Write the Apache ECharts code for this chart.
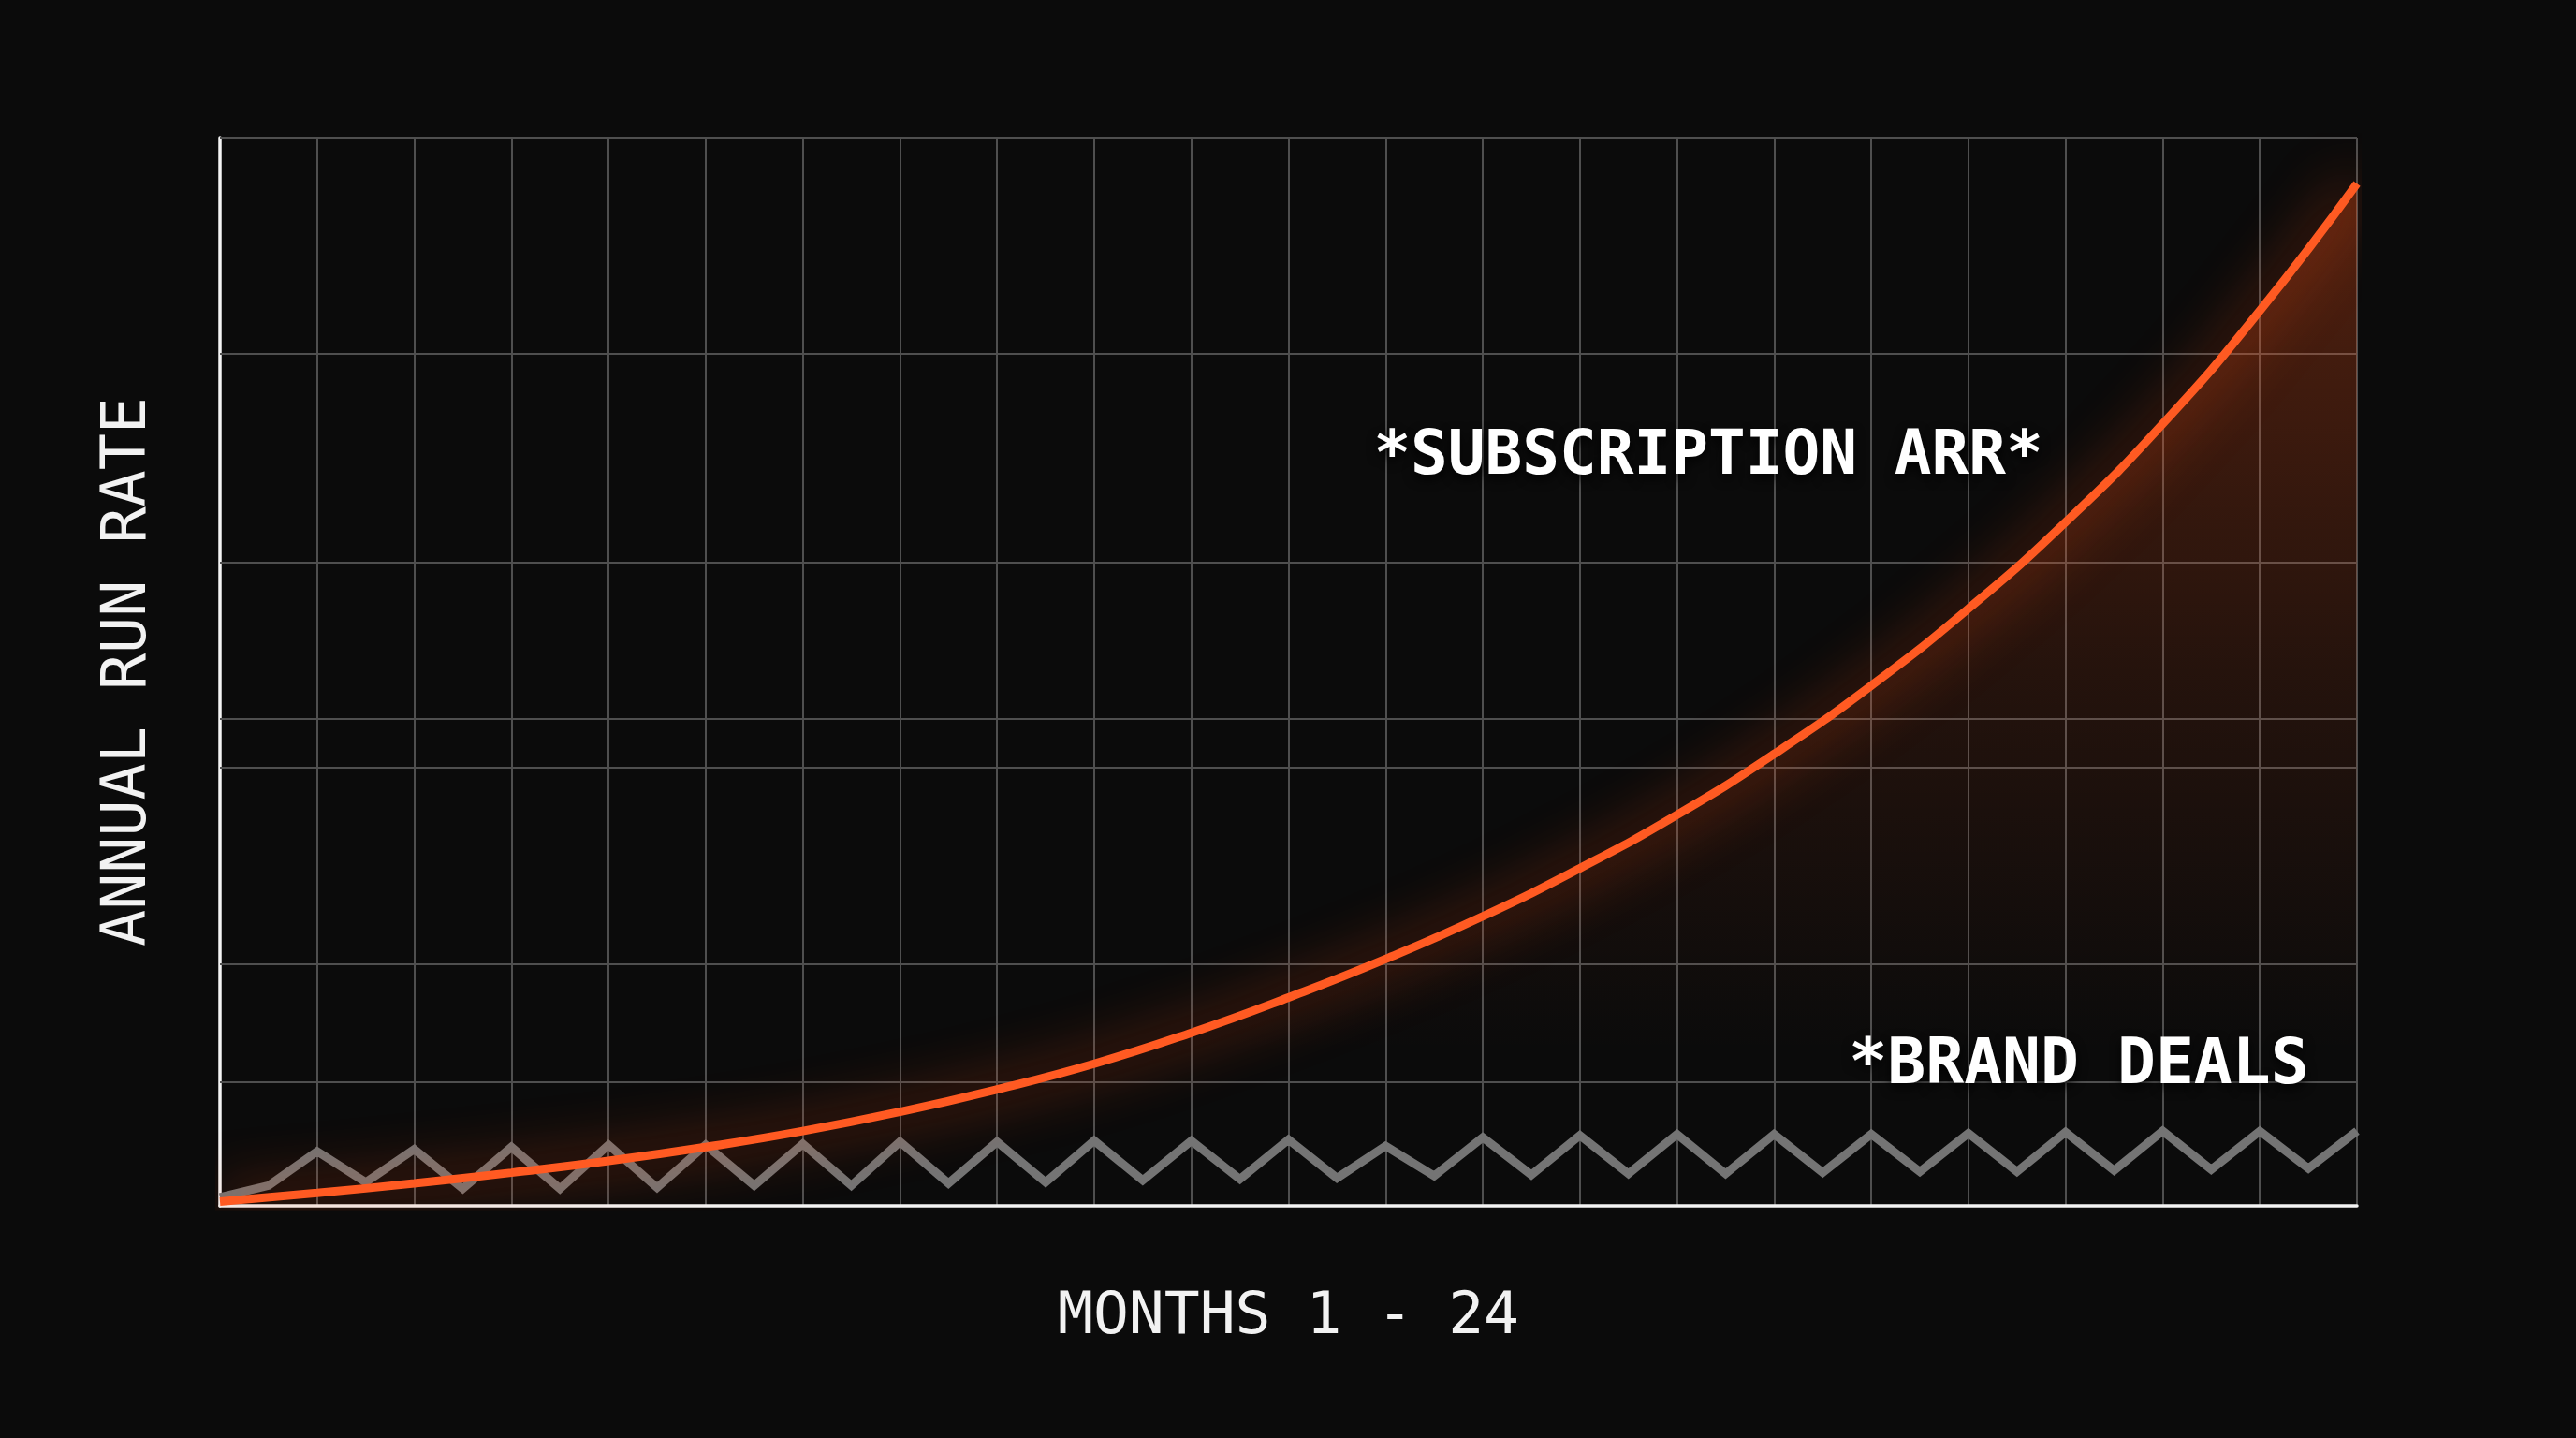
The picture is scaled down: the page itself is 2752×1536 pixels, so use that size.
<!DOCTYPE html>
<html>
<head>
<meta charset="utf-8">
<script src="https://cdn.jsdelivr.net/npm/echarts@6/dist/echarts.min.js"></script>
<style>
  html, body { margin: 0; padding: 0; background: #0b0b0b; }
  #chart { width: 2752px; height: 1536px; }
</style>
</head>
<body>
<div id="chart"></div>
<script>
// ---- data ----
const subscriptionMonths = [0, 1, 2, 3, 4, 5, 6, 7, 8, 9, 10, 11, 12, 13, 14, 15, 16, 17, 18, 19, 20, 21, 22];
const subscriptionArr = [0.4, 1.2, 2.1, 3.1, 4.2, 5.5, 7.0, 8.8, 10.9, 13.3, 16.2, 19.5, 23.1, 27.1, 31.6, 36.6, 42.3, 48.7, 55.9, 64.0, 73.2, 83.8, 95.7];

const brandMonths = [0, 0.5, 1, 1.5, 2, 2.5, 3, 3.5, 4, 4.5, 5, 5.5, 6, 6.5, 7, 7.5, 8, 8.5, 9, 9.5, 10, 10.5, 11, 11.5, 12, 12.5, 13, 13.5, 14, 14.5, 15, 15.5, 16, 16.5, 17, 17.5, 18, 18.5, 19, 19.5, 20, 20.5, 21, 21.5, 22];
const brandDeals = [0.8, 1.9, 5.1, 2.2, 5.3, 1.6, 5.5, 1.6, 5.7, 1.7, 5.7, 1.9, 5.8, 1.9, 6.0, 2.1, 6.0, 2.2, 6.1, 2.4, 6.1, 2.5, 6.2, 2.6, 5.6, 2.8, 6.4, 2.9, 6.6, 3.0, 6.7, 3.0, 6.7, 3.1, 6.7, 3.2, 6.8, 3.2, 6.9, 3.3, 7.0, 3.4, 7.0, 3.5, 7.0];

const yGridLines = [11.6, 22.6, 41.0, 45.6, 60.2, 79.8, 100];

const xAxisTitle = 'MONTHS 1 - 24';
const yAxisTitle = 'ANNUAL RUN RATE';
const subscriptionLabel = '*SUBSCRIPTION ARR*';
const brandLabel = '*BRAND DEALS';

// ---- chart ----
const chart = echarts.init(document.getElementById('chart'), null, { renderer: 'canvas' });

const ORANGE = '#ff5a22';
const GRID_COLOR = '#4f4f4f';
const MONO = "'DejaVu Sans Mono', 'Liberation Mono', monospace";

const option = {
  backgroundColor: '#0b0b0b',
  animation: false,
  grid: { left: 235, right: 234, top: 147, bottom: 248, containLabel: false },
  xAxis: {
    type: 'value',
    min: 0,
    max: 22,
    interval: 1,
    name: xAxisTitle,
    nameLocation: 'middle',
    nameGap: 88,
    nameTextStyle: { color: '#f2f2f2', fontFamily: MONO, fontSize: 63 },
    axisLine: { show: true, onZero: false, lineStyle: { color: '#f4f4f4', width: 3.5 } },
    axisTick: { show: false },
    axisLabel: { show: false },
    splitLine: { show: true, lineStyle: { color: GRID_COLOR, width: 2 } }
  },
  yAxis: {
    type: 'value',
    min: 0,
    max: 100,
    name: yAxisTitle,
    nameLocation: 'middle',
    nameGap: 64,
    nameTextStyle: { color: '#f2f2f2', fontFamily: MONO, fontSize: 65 },
    axisLine: { show: true, onZero: false, lineStyle: { color: '#f4f4f4', width: 3.5 } },
    axisTick: { show: false },
    axisLabel: { show: false },
    splitLine: { show: false }
  },
  series: [
    {
      name: 'grid',
      type: 'line',
      z: 1,
      silent: true,
      data: [[0, 0]],
      showSymbol: false,
      lineStyle: { opacity: 0 },
      markLine: {
        silent: true,
        symbol: ['none', 'none'],
        label: { show: false },
        lineStyle: { color: GRID_COLOR, width: 2, type: 'solid' },
        data: yGridLines.map(v => ({ yAxis: v }))
      }
    },
    {
      name: 'Brand Deals',
      type: 'line',
      z: 3,
      data: brandMonths.map((m, i) => [m, brandDeals[i]]),
      showSymbol: false,
      lineStyle: { color: '#747474', width: 9, join: 'miter', cap: 'butt' }
    },
    {
      name: 'Subscription ARR',
      type: 'line',
      z: 5,
      smooth: 0.5,
      data: subscriptionMonths.map((m, i) => [m, subscriptionArr[i]]),
      showSymbol: false,
      lineStyle: {
        color: ORANGE,
        width: 9,
        cap: 'butt',
        shadowBlur: 60,
        shadowColor: 'rgba(255, 80, 20, 0.9)'
      },
      areaStyle: {
        origin: 'start',
        color: {
          type: 'linear', x: 0, y: 0, x2: 0, y2: 1,
          colorStops: [
            { offset: 0, color: 'rgba(255, 85, 25, 0.42)' },
            { offset: 0.5, color: 'rgba(255, 85, 25, 0.14)' },
            { offset: 0.85, color: 'rgba(255, 85, 25, 0.0)' },
            { offset: 1, color: 'rgba(255, 85, 25, 0.0)' }
          ]
        }
      }
    }
  ],
  graphic: [
    {
      type: 'text',
      x: 1825,
      y: 489,
      z: 100,
      style: {
        text: subscriptionLabel,
        fill: '#ffffff',
        font: "bold 66px 'DejaVu Sans Mono', 'Liberation Mono', monospace",
        align: 'center',
        verticalAlign: 'middle',
        textShadowColor: 'rgba(0,0,0,0.85)',
        textShadowBlur: 12,
        textShadowOffsetY: 5
      }
    },
    {
      type: 'text',
      x: 2221,
      y: 1139,
      z: 100,
      style: {
        text: brandLabel,
        fill: '#ffffff',
        font: "bold 68px 'DejaVu Sans Mono', 'Liberation Mono', monospace",
        align: 'center',
        verticalAlign: 'middle',
        textShadowColor: 'rgba(0,0,0,0.85)',
        textShadowBlur: 12,
        textShadowOffsetY: 5
      }
    }
  ]
};

chart.setOption(option);
</script>
</body>
</html>
